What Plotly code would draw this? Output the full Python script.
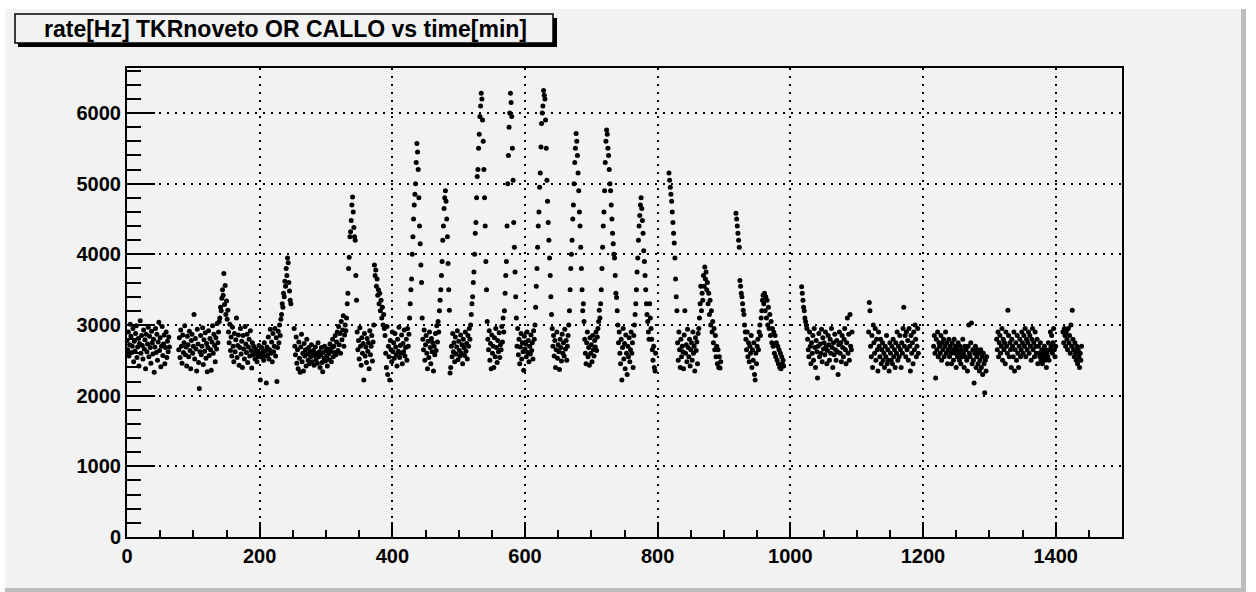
import plotly.graph_objects as go

# ---------------- data: rate [Hz] per minute, one list per contiguous stretch ----------------
# start minute of each stretch
t0_a, t0_b, t0_bs, t0_c, t0_cs = 0, 78, 140, 153, 233
t0_d, t0_ds, t0_e, t0_ed, t0_f, t0_fs = 252, 331, 347, 373, 389, 426
t0_g, t0_gs, t0_h, t0_hs, t0_i, t0_is = 445, 474, 487, 521, 543, 572
t0_j, t0_js, t0_k, t0_ks, t0_l, t0_ls = 588, 618, 641, 670, 690, 715
t0_m, t0_ms, t0_m2, t0_ns, t0_n, t0_nd = 740, 767, 788, 817, 830, 866
t0_o, t0_p, t0_pd, t0_q, t0_qb, t0_r = 918, 933, 960, 1017, 1026, 1118
t0_s, t0_t, t0_u = 1216, 1311, 1411

rate_a = [2780, 2650, 2900, 2560, 2720, 3010, 2840, 2610, 2700, 2950, 2480, 2770, 2630, 2880, 2990, 2540,
          2690, 2810, 2420, 2740, 3060, 2600, 2850, 2710, 2520, 2930, 2660, 2790, 2380, 2870, 2620, 2730,
          2970, 2550, 2840, 2680, 2460, 2910, 2750, 2590, 2800, 2330, 2690, 2950, 2610, 2870, 2500, 2760,
          3040, 2640, 2820, 2410, 2700, 2980, 2570, 2730, 2860, 2450, 2680, 2900, 2540, 2770, 2620, 2830, 2690]
rate_b = [2650, 2820, 2540, 2930, 2700, 2460, 2860, 2610, 2750, 2990, 2580, 2690, 2420, 2840, 2720, 2550,
          2910, 2640, 2380, 2780, 2870, 2600, 2700, 3150, 2520, 2810, 2660, 2350, 2940, 2730, 2470, 2100,
          2620, 2850, 2580, 2700, 2960, 2440, 2790, 2630, 2890, 2530, 2740, 2340, 2680, 2920, 2570, 2810,
          2650, 2360, 2760, 2990, 2600, 2870, 2710, 2480, 2820, 2660, 3020, 2750, 2900, 3050]
rate_bs = [3100, 3250, 3200, 3380, 3500, 3420, 3730, 3290, 3560, 3150, 3340, 3080, 3210]
rate_c = [2900, 2750, 3010, 2640, 2830, 2560, 2970, 2700, 2480, 2880, 2620, 2790, 3100, 2540, 2710, 2860,
          2430, 2680, 2950, 2590, 2770, 2400, 2850, 2660, 2520, 2980, 2730, 2610, 2870, 2470, 2690, 2800,
          2560, 2920, 2640, 2390, 2750, 2580, 2700, 2600, 2520, 2660, 2590, 2480, 2630, 2550, 2710, 2570,
          2220, 2600, 2680, 2540, 2620, 2500, 2750, 2560, 2640, 2180, 2690, 2580, 2830, 2520, 2650, 2940,
          2600, 2760, 2480, 2880, 2620, 2700, 2950, 2560, 2820, 2200, 2680, 2910, 2750, 3000, 2850, 3080]
rate_cs = [3150, 3300, 3250, 3450, 3400, 3620, 3550, 3800, 3700, 3950, 3880, 3600, 3480, 3350, 3300]
rate_d = [2950, 2700, 2580, 2830, 2460, 2650, 2380, 2760, 2530, 2330, 2690, 2870, 2480, 2600, 2350, 2740,
          2560, 2650, 2420, 2800, 2590, 2500, 2680, 2450, 2620, 2550, 2720, 2480, 2600, 2640, 2430, 2570,
          2690, 2510, 2600, 2460, 2750, 2550, 2620, 2400, 2580, 2680, 2470, 2340, 2610, 2530, 2700, 2490,
          2640, 2560, 2420, 2660, 2590, 2510, 2730, 2620, 2480, 2680, 2800, 2550, 2700, 2610, 2850, 2580,
          2760, 2900, 2640, 2980, 2720, 2880, 2600, 3050, 2790, 2930, 3130, 2700, 2860, 3000, 2920]
rate_ds = [3100, 3300, 3450, 3800, 3960, 4250, 4320, 4480, 4700, 4810, 4600, 4380, 4250, 4200, 3700, 3350]
rate_e = [2900, 2650, 2780, 2520, 2960, 2700, 2430, 2820, 2600, 2740, 2220, 2880, 2560, 2690, 2470, 2810,
          2630, 2750, 2380, 2920, 2580, 2700, 2850, 2490, 2760, 3000]
rate_ed = [3850, 3700, 3780, 3550, 3650, 3420, 3500, 3300, 3450, 3200, 3350, 3100, 3250, 3000, 3150, 2950]
rate_f = [2850, 2600, 2400, 2980, 2300, 2700, 2550, 2220, 2780, 2650, 2480, 2900, 2620, 2750, 2530, 2880,
          2690, 2580, 2420, 2800, 2630, 2970, 2540, 2710, 2600, 2860, 2450, 2740, 2620, 2930, 2560, 2680,
          2800, 2500, 2950, 2700, 2870]
rate_fs = [3100, 3300, 3500, 3650, 4000, 4250, 4500, 4700, 4850, 5000, 5300, 5570, 5450, 5200, 4800, 4400,
           4150, 3850, 3600]
rate_g = [3100, 2800, 2650, 2930, 2500, 2720, 2850, 2600, 2380, 2770, 2540, 2900, 2680, 2450, 2810, 2620,
          2750, 2350, 2700, 2580, 2880, 2640, 2990, 2760, 3050, 2900, 3200, 3350, 3500]
rate_gs = [3700, 3900, 4200, 4400, 4650, 4800, 4900, 4750, 4500, 4250, 3870, 3500, 3210]
rate_h = [2320, 2400, 2700, 2550, 2880, 2620, 2750, 2480, 2830, 2590, 2690, 2920, 2510, 2770, 2640, 2560,
          2860, 2600, 2720, 2450, 2800, 2680, 2570, 2900, 2630, 2740, 2520, 2850, 2700, 2950, 2800, 3000,
          3150, 3300]
rate_hs = [3400, 3600, 3750, 4000, 4300, 4450, 4800, 5100, 5200, 5500, 5700, 5950, 6100, 6280, 6200, 5900,
           5600, 5200, 4800, 4400, 3900, 3500]
rate_i = [3050, 2800, 2650, 2920, 2500, 2740, 2380, 2860, 2600, 2700, 2400, 2820, 2550, 2950, 2680, 2470,
          2780, 2620, 2890, 2540, 2720, 2650, 2980, 2760, 3100, 2900, 3200, 3450, 3700]
rate_is = [3900, 4400, 5000, 5400, 5800, 6000, 6280, 6150, 5950, 5500, 5050, 4450, 4100, 3750, 3400, 3100]
rate_j = [2700, 2950, 2580, 2800, 2450, 2690, 2880, 2520, 2750, 2620, 2360, 2840, 2660, 2730, 2550, 2900,
          2610, 2780, 2480, 2700, 2590, 2860, 2640, 2750, 2520, 2920, 2800, 3000, 3250, 3550]
rate_js = [3800, 4100, 4400, 4600, 4950, 5150, 5520, 5850, 6000, 6100, 6320, 6250, 6200, 5900, 5500, 5050,
           4750, 4450, 4200, 3950, 3700, 3400, 3150]
rate_k = [2950, 2700, 2850, 2560, 2780, 2400, 2650, 2900, 2530, 2720, 2620, 2370, 2800, 2680, 2490, 2870,
          2600, 2750, 2560, 2940, 2660, 2780, 2500, 2700, 2850, 3000, 3200, 3500, 3800]
rate_ks = [4000, 4200, 4500, 4700, 5000, 5300, 5500, 5710, 5600, 5400, 5150, 4900, 4600, 4400, 4100, 3800,
           3500, 3200, 3300, 3050]
rate_l = [2800, 2600, 2450, 2750, 2900, 2550, 2680, 2430, 2820, 2600, 2720, 2480, 2850, 2650, 2560, 2780,
          2690, 2900, 2640, 2830, 2950, 3050, 3210, 3100, 3300]
rate_ls = [3500, 3800, 4100, 4400, 4600, 4900, 5300, 5600, 5760, 5700, 5500, 5400, 5200, 5000, 4900, 4700,
           4500, 4300, 4150, 4000, 3950, 3700, 3450, 3390, 3200]
rate_m = [3000, 2750, 2900, 2600, 2450, 2800, 2220, 2680, 2950, 2520, 2740, 2380, 2860, 2600, 2300, 2700,
          2550, 2820, 2480, 2650, 2900, 2600, 2750, 2400, 2850, 3000, 3150]
rate_ms = [3300, 3500, 3750, 3950, 4200, 4400, 4550, 4700, 4800, 4650, 4480, 4300, 4050, 3900, 3700, 3500,
           3300, 3150, 3050, 2900, 2800]
rate_m2 = [3300, 3100, 2950, 2800, 2650, 2500, 2700, 2400, 2350, 2600]
rate_ns = [5150, 5050, 4950, 4850, 4750, 4600, 4450, 4300, 4160, 3950, 3650, 3400, 3200]
rate_n = [2750, 2500, 2900, 2650, 2400, 2800, 2550, 2700, 2620, 2380, 2860, 3200, 2600, 2720, 2480, 2940,
          2680, 2550, 2800, 2420, 2650, 2750, 2500, 2900, 2600, 2700, 2350, 2820, 2640, 2760, 2450, 2880,
          2950, 3100, 3300, 3550]
rate_nd = [3200, 3450, 3350, 3700, 3550, 3820, 3650, 3750, 3500, 3600, 3300, 3450, 3150, 3350, 3000, 3200,
           2900, 3050, 2750, 2950, 2650, 2850, 2550, 2700, 2450, 2650, 2400, 2550, 2390, 2480]
rate_o = [4580, 4500, 4400, 4300, 4200, 4100, 3630, 3550, 3450, 3400, 3300, 3210, 3150, 3000, 2900]
rate_p = [2800, 2650, 2900, 2550, 2750, 2480, 2700, 2600, 2850, 2400, 2650, 2500, 2750, 2300, 2220, 2600,
          2450, 2700, 2800, 2650, 2900, 3000, 2850, 3100, 3200, 3350, 3420]
rate_pd = [3300, 3450, 3200, 3400, 3100, 3350, 3000, 3250, 2950, 3150, 2850, 3050, 2750, 2950, 2700, 2900,
           2600, 2850, 2550, 2750, 2500, 2700, 2450, 2650, 2400, 2600, 2380, 2550, 2450, 2500, 2420]
rate_q = [3540, 3450, 3350, 3250, 3200, 3100, 3050, 3000, 2950]
rate_qb = [2800, 2650, 2550, 2900, 2700, 2450, 2750, 2600, 2850, 2500, 2950, 2680, 2400, 2780, 2620, 2250,
           2700, 2880, 2550, 2730, 2600, 2940, 2480, 2820, 2660, 2750, 2580, 2900, 2700, 2450, 2640, 2850,
           2720, 2500, 2800, 2600, 2950, 2680, 2400, 2750, 2580, 2870, 2650, 2500, 2780, 2620, 2300, 2720,
           2900, 2600, 2750, 2480, 2850, 2680, 2550, 2800, 2950, 2650, 2450, 2750, 3100, 2600, 2870, 2500,
           3150, 2700, 2650, 2900]
rate_r = [2900, 3320, 3200, 2700, 2550, 2850, 2400, 3000, 2750, 2600, 2950, 2500, 2800, 2650, 2350, 2900,
          2700, 2550, 2800, 2450, 2650, 2750, 2500, 2600, 2400, 2700, 2550, 2850, 2450, 2650, 2500, 2350,
          2750, 2600, 2500, 2700, 2450, 2800, 2550, 2650, 2400, 2750, 2600, 2900, 2500, 2700, 2550, 2850,
          2650, 2400, 2750, 2600, 2950, 3250, 2700, 2850, 2550, 2900, 2650, 2780, 2500, 2950, 2700, 2350,
          2850, 2600, 2750, 2450, 2900, 2650, 3000, 2800, 2550, 2700, 2950, 2600]
rate_s = [2700, 2850, 2600, 2250, 2800, 2650, 2900, 2550, 2750, 2700, 2600, 2850, 2500, 2750, 2650, 2800,
          2550, 2700, 2900, 2600, 2750, 2450, 2650, 2800, 2550, 2700, 2600, 2450, 2750, 2650, 2500, 2800,
          2600, 2700, 2400, 2650, 2550, 2750, 2600, 2500, 2700, 2450, 2650, 2550, 2800, 2600, 2400, 2700,
          2550, 2650, 2500, 2350, 2700, 3000, 2600, 2550, 2750, 3030, 2450, 2650, 2500, 2180, 2600, 2700,
          2400, 2550, 2650, 2450, 2600, 2350, 2500, 2650, 2400, 2550, 2300, 2600, 2450, 2040, 2500, 2350, 2550]
rate_t = [2800, 2650, 2900, 2550, 2750, 2850, 2600, 2700, 2950, 2500, 2800, 2650, 2750, 2450, 2900, 2700,
          2600, 3210, 2850, 2550, 2750, 2650, 2400, 2800, 2700, 2550, 2900, 2350, 2650, 2750, 2500, 2850,
          2600, 2400, 2700, 2800, 2550, 2650, 2900, 2750, 2600, 2850, 2700, 2950, 2550, 2800, 2650, 2750,
          2900, 2600, 2850, 2700, 2500, 2800, 2950, 2650, 2750, 2550, 2900, 2700, 2600, 2800, 2450, 2700,
          2600, 2550, 2750, 2500, 2650, 2450, 2600, 2550, 2700, 2500, 2650, 2400, 2600, 2550, 2750, 2500,
          2650, 2900, 2700, 2850, 2600, 2750, 2950, 2650, 2550, 2700]
rate_u = [2900, 2750, 2950, 2850, 2700, 2900, 2800, 2650, 2950, 2750, 2850, 2600, 3000, 2700, 3210, 2800,
          2650, 2550, 2750, 2600, 2500, 2700, 2450, 2650, 2550, 2400, 2600, 2500, 2700]

title_text = "rate[Hz] TKRnoveto OR CALLO vs time[min]"
x_tickvals = [0, 200, 400, 600, 800, 1000, 1200, 1400]
y_tickvals = [0, 1000, 2000, 3000, 4000, 5000, 6000]

stretches = [
    (t0_a, rate_a), (t0_b, rate_b), (t0_bs, rate_bs), (t0_c, rate_c), (t0_cs, rate_cs),
    (t0_d, rate_d), (t0_ds, rate_ds), (t0_e, rate_e), (t0_ed, rate_ed), (t0_f, rate_f), (t0_fs, rate_fs),
    (t0_g, rate_g), (t0_gs, rate_gs), (t0_h, rate_h), (t0_hs, rate_hs), (t0_i, rate_i), (t0_is, rate_is),
    (t0_j, rate_j), (t0_js, rate_js), (t0_k, rate_k), (t0_ks, rate_ks), (t0_l, rate_l), (t0_ls, rate_ls),
    (t0_m, rate_m), (t0_ms, rate_ms), (t0_m2, rate_m2), (t0_ns, rate_ns), (t0_n, rate_n), (t0_nd, rate_nd),
    (t0_o, rate_o), (t0_p, rate_p), (t0_pd, rate_pd), (t0_q, rate_q), (t0_qb, rate_qb), (t0_r, rate_r),
    (t0_s, rate_s), (t0_t, rate_t), (t0_u, rate_u),
]
time_min, rate_hz = [], []
for t0, vals in stretches:
    for i, v in enumerate(vals):
        time_min.append(t0 + i)
        rate_hz.append(v)

# ---------------- layout geometry (pixels) ----------------
W, H = 1256, 592
L, R, T, B = 127, 1122, 68, 537
BG = "#f2f2f2"


def px(p):
    return (p - L) / (R - L)


def py(p):
    return (B - p) / (B - T)


fig = go.Figure()
fig.add_trace(go.Scatter(
    x=time_min, y=rate_hz, mode="markers",
    marker=dict(color="black", size=5, line=dict(width=0)),
    hoverinfo="x+y", showlegend=False,
))

font_fam = "Liberation Sans, Arial, Helvetica, sans-serif"
axis_common = dict(
    showline=True, linecolor="black", linewidth=2, mirror=True,
    ticks="inside", tickcolor="black", tickwidth=2,
    showgrid=True, gridcolor="black", gridwidth=2, griddash="2px,6px",
    zeroline=False,
    tickfont=dict(family=font_fam, size=20, color="black", weight="bold"),
)

fig.update_xaxes(range=[0, 1500], tickvals=x_tickvals, ticklen=15,
                 minor=dict(dtick=50, ticklen=7, tickwidth=2, tickcolor="black", ticks="inside", showgrid=False),
                 **axis_common)
fig.update_yaxes(range=[0, 6637], tickvals=y_tickvals, ticklen=28,
                 minor=dict(dtick=200, ticklen=14, tickwidth=2, tickcolor="black", ticks="inside", showgrid=False),
                 **axis_common)

shapes = [
    # canvas bevel
    dict(type="rect", xref="paper", yref="paper", x0=px(0), x1=px(W), y0=py(0), y1=py(9),
         fillcolor="white", line=dict(width=0), layer="below"),
    dict(type="rect", xref="paper", yref="paper", x0=px(0), x1=px(5), y0=py(0), y1=py(H),
         fillcolor="white", line=dict(width=0), layer="below"),
    dict(type="rect", xref="paper", yref="paper", x0=px(1241), x1=px(1246), y0=py(9), y1=py(H),
         fillcolor="#bdbdbd", line=dict(width=0), layer="below"),
    dict(type="rect", xref="paper", yref="paper", x0=px(1246), x1=px(W), y0=py(0), y1=py(H),
         fillcolor="white", line=dict(width=0), layer="below"),
    dict(type="rect", xref="paper", yref="paper", x0=px(5), x1=px(1246), y0=py(588), y1=py(H),
         fillcolor="#bdbdbd", line=dict(width=0), layer="below"),
    # title box shadow and box
    dict(type="rect", xref="paper", yref="paper", x0=px(18), x1=px(557), y0=py(18), y1=py(47),
         fillcolor="black", line=dict(width=0), layer="above"),
    dict(type="rect", xref="paper", yref="paper", x0=px(15), x1=px(553), y0=py(14), y1=py(43),
         fillcolor=BG, line=dict(color="black", width=1.5), layer="above"),
]

fig.update_layout(
    width=W, height=H, autosize=False,
    margin=dict(l=L, r=W - R, t=T, b=H - B, pad=0),
    paper_bgcolor=BG, plot_bgcolor=BG,
    shapes=shapes,
    annotations=[dict(text=title_text, xref="paper", yref="paper", x=px(285), y=py(29),
                      xanchor="center", yanchor="middle", showarrow=False,
                      font=dict(family=font_fam, size=23, color="black", weight="bold"))],
)

fig.write_html("out.html")
